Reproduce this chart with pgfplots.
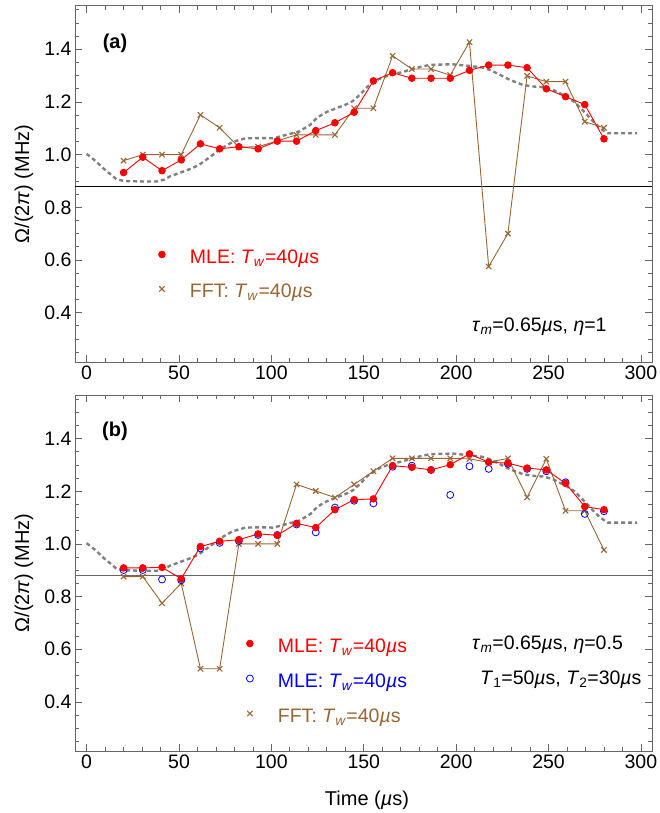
\documentclass[border=0pt]{standalone}
\usepackage{fontspec}
\setmainfont{Liberation Sans}
\usepackage{pgfplots}
\usepackage{pgfplotstable}
\pgfplotsset{compat=1.18}

\definecolor{mlered}{rgb}{1,0,0}
\definecolor{mleblue}{rgb}{0,0,1}
\definecolor{fftbrown}{rgb}{0.6,0.4,0.2}
\definecolor{truegray}{rgb}{0.5,0.5,0.5}
\definecolor{framegray}{gray}{0.4}

\newcommand{\Tw}{\textit{T}\textsubscript{\textit{w}}}
\newcommand{\txtfont}{\fontsize{19.5}{22}\selectfont}

% estimates, window centres every 10.4 us
\pgfplotstableread{
t      amle   afft   bmle   bmle2  bfft
20.0   0.932  0.977  0.909  0.901  0.876
30.4   0.990  1.000  0.909  0.901  0.876
40.8   0.939  1.000  0.911  0.865  0.775
51.2   0.980  1.000  0.868  0.862  0.850
61.6   1.041  1.151  0.990  0.983  0.526
72.0   1.022  1.102  1.010  1.004  0.526
82.4   1.030  1.028  1.016  1.011  1.000
92.8   1.022  1.030  1.038  1.034  1.000
103.2  1.051  1.052  1.033  1.034  1.000
113.6  1.051  1.075  1.078  1.074  1.226
124.0  1.091  1.075  1.062  1.044  1.201
134.4  1.121  1.075  1.130  1.138  1.176
144.8  1.161  1.176  1.168  1.164  1.226
155.2  1.280  1.176  1.171  1.154  1.276
165.6  1.311  1.375  1.297  1.293  1.325
176.0  1.290  1.325  1.291  1.297  1.325
186.4  1.290  1.325  1.281  1.281  1.325
196.8  1.290  1.302  1.301  1.186  1.325
207.2  1.320  1.427  1.342  1.295  1.323
217.6  1.340  0.575  1.310  1.285  1.310
228.0  1.340  0.700  1.307  1.304  1.325
238.4  1.330  1.299  1.288  1.285  1.177
248.8  1.250  1.277  1.281  1.276  1.323
259.2  1.220  1.277  1.230  1.234  1.126
269.6  1.190  1.125  1.142  1.114  1.126
280.0  1.060  1.102  1.130  1.124  0.977
}\est

% true Rabi frequency
\pgfplotstableread{
t    w
0    1.003
5    0.975
9    0.948
13   0.925
16   0.907
20   0.900
30   0.898
38   0.898
42   0.905
45   0.917
52   0.935
57   0.948
61   0.962
67   0.992
72   1.020
79   1.048
86   1.062
95   1.063
101  1.062
108  1.075
115  1.088
121  1.113
125  1.142
130  1.162
135  1.176
140  1.189
144  1.203
148  1.228
152  1.258
158  1.286
164  1.303
170  1.312
175  1.322
180  1.332
186  1.341
198  1.343
207  1.337
214  1.331
218  1.322
222  1.309
229  1.284
236  1.265
241  1.259
247  1.256
252  1.247
256  1.233
260  1.218
264  1.200
268  1.172
271  1.150
275  1.120
278  1.100
282  1.081
298  1.081
}\truth

\pgfplotsset{
  panel/.style={
    scale only axis, width=577pt, height=356.3pt,
    xmin=-6.3, xmax=306, ymin=0.2125, ymax=1.5655,
    xtick={0,50,100,150,200,250,300},
    minor xtick={10,20,30,40,60,70,80,90,110,120,130,140,160,170,180,190,210,220,230,240,260,270,280,290},
    ytick={0.4,0.6,0.8,1.0,1.2,1.4},
    minor ytick={0.25,0.3,0.35,0.45,0.5,0.55,0.65,0.7,0.75,0.85,0.9,0.95,1.05,1.1,1.15,1.25,1.3,1.35,1.45,1.5,1.55},
    yticklabel style={/pgf/number format/.cd, fixed, fixed zerofill, precision=1},
    /pgf/number format/assume math mode=true,
    tick label style={font=\txtfont},
    tick align=inside, tick pos=both,
    major tick length=7pt, minor tick length=4pt,
    every tick/.style={framegray, line width=0.8pt},
    axis line style={framegray, line width=1pt},
    clip=true,
    reverse legend,
    legend cell align=left,
    legend style={draw=none, fill=none, inner sep=0pt, outer sep=0pt,
      anchor=north west, row sep=17pt, font=\txtfont,
      nodes={inner sep=0pt, anchor=west, text height=13pt, text depth=4.5pt}},
    legend image code/.code={\path[draw=none, fill=none] (-4pt,0pt) -- (28pt,0pt);
      \draw[#1, only marks] plot coordinates {(0pt,4.5pt)};},
  },
  truth/.style={truegray, line width=2.4pt, dash pattern=on 4pt off 3pt, forget plot},
}

\begin{document}
\begin{tikzpicture}
\path[use as bounding box] (0pt,0pt) rectangle (659pt,-813pt);

% (a)
\begin{axis}[panel, at={(75pt,-5.7pt)}, anchor=north west,
  legend style={at={(axis cs:38.6,0.637)}}]
  \addplot[truth] table[x=t, y=w] {\truth};
  \addplot[black, line width=0.8pt, forget plot] coordinates {(-6.3,0.88) (306,0.88)};
  \addplot[fftbrown, line width=0.9pt, mark=x, mark size=3.8pt,
    mark options={line width=1.1pt}] table[x=t, y=afft] {\est};
  \addlegendentry{\textcolor{fftbrown}{FFT: \Tw=40\textit{µ}s}}
  \addplot[mlered, line width=0.9pt, mark=*, mark size=3.3pt] table[x=t, y=amle] {\est};
  \addlegendentry{\textcolor{mlered}{MLE: \Tw=40\textit{µ}s}}
\end{axis}

% (b)
\begin{axis}[panel, at={(75pt,-395pt)}, anchor=north west,
  legend style={at={(axis cs:86.2,0.638)}, row sep=17.5pt}]
  \addplot[truth] table[x=t, y=w] {\truth};
  \addplot[black!60, line width=1.4pt, forget plot] coordinates {(-6.3,0.88) (306,0.88)};
  \addplot[fftbrown, line width=0.9pt, mark=x, mark size=3.8pt,
    mark options={line width=1.1pt}] table[x=t, y=bfft] {\est};
  \addlegendentry{\textcolor{fftbrown}{FFT: \Tw=40\textit{µ}s}}
  \addplot[mleblue, only marks, mark=o, mark size=3.5pt,
    mark options={line width=0.8pt}] table[x=t, y=bmle2] {\est};
  \addlegendentry{\textcolor{mleblue}{MLE: \Tw=40\textit{µ}s}}
  \addplot[mlered, line width=0.9pt, mark=*, mark size=3.3pt] table[x=t, y=bmle] {\est};
  \addlegendentry{\textcolor{mlered}{MLE: \Tw=40\textit{µ}s}}
\end{axis}

\node[font=\bfseries\fontsize{20}{22}\selectfont] at (115pt,-43pt) {(a)};
\node[font=\bfseries\fontsize{20}{22}\selectfont] at (115pt,-431pt) {(b)};

\node[font=\txtfont, anchor=west, inner sep=0pt] at (472pt,-327pt)
  {\textit{τ}\textsubscript{\textit{m}}=0.65\textit{µ}s, \textit{η}=1};
\node[font=\txtfont, anchor=west, inner sep=0pt] at (472pt,-645pt)
  {\textit{τ}\textsubscript{\textit{m}}=0.65\textit{µ}s, \textit{η}=0.5};
\node[font=\txtfont, anchor=west, inner sep=0pt] at (480pt,-680pt)
  {\textit{T}\textsubscript{1}=50\textit{µ}s, \textit{T}\textsubscript{2}=30\textit{µ}s};

\node[font=\fontsize{20}{22}\selectfont, rotate=90] at (24pt,-184pt) {Ω/(2\textit{π}) (MHz)};
\node[font=\fontsize{20}{22}\selectfont, rotate=90] at (24pt,-573pt) {Ω/(2\textit{π}) (MHz)};
\node[font=\fontsize{20}{22}\selectfont] at (367pt,-800pt) {Time (\textit{µ}s)};
\end{tikzpicture}
\end{document}
